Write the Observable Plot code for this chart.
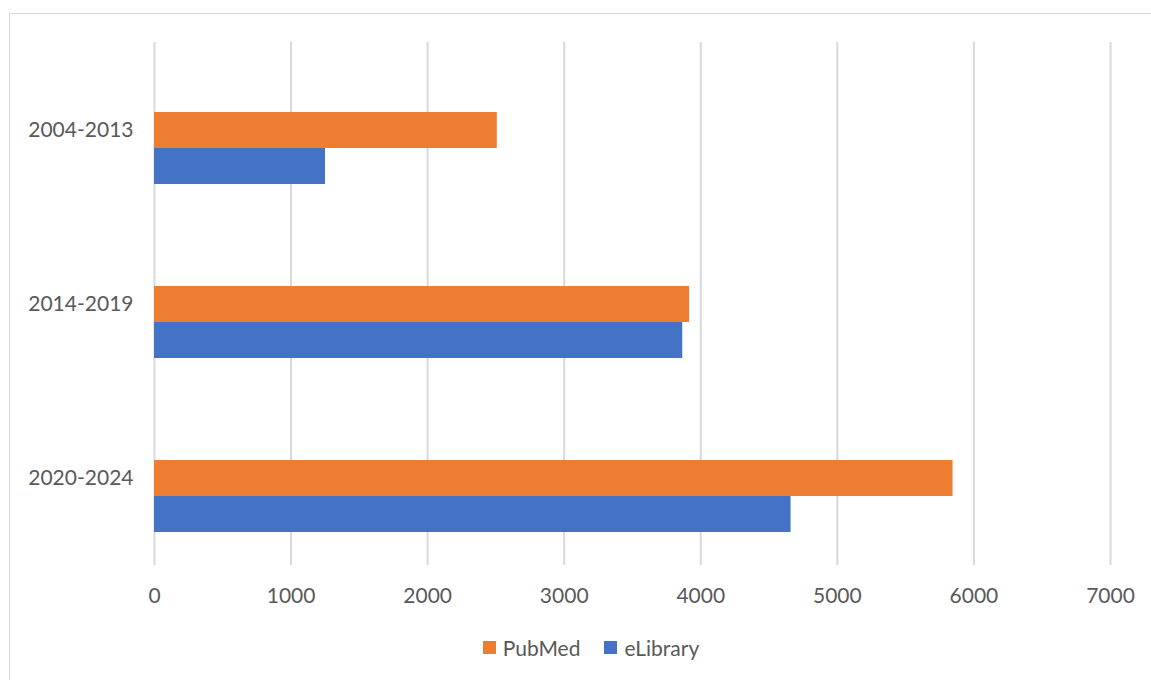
<!DOCTYPE html>
<html>
<head>
<meta charset="utf-8">
<script src="https://cdn.jsdelivr.net/npm/d3@7"></script>
<script src="https://cdn.jsdelivr.net/npm/@observablehq/plot@0.6"></script>
<style>
  html, body { margin: 0; padding: 0; background: #fff; }
  #wrap { position: relative; width: 1151px; height: 680px; overflow: hidden; font-family: Lato, "Open Sans", sans-serif; }
  #frame { position: absolute; left: 9px; top: 13px; width: 1200px; height: 700px; border-left: 1px solid #d9d9d9; border-top: 1px solid #d9d9d9; }
  #chart { position: absolute; left: 0; top: 0; }
  #legend { position: absolute; top: 635px; left: 0; width: 1182px; display: flex; justify-content: center; gap: 24px; font-size: 21px; color: #595959; }
  .item { display: flex; align-items: center; gap: 7px; }
  .sw { width: 13px; height: 13px; display: inline-block; }
</style>
</head>
<body>
<div id="wrap">
  <div id="frame"></div>
  <div id="chart"></div>
  <div id="legend"></div>
</div>
<script>
const periods = ["2004-2013", "2014-2019", "2020-2024"];
const pubmed = [2510, 3918, 5847];
const elibrary = [1252, 3868, 4661];
const seriesNames = ["PubMed", "eLibrary"];
const seriesColors = ["#ED7D31", "#4472C4"];
const xTicks = [0, 1000, 2000, 3000, 4000, 5000, 6000, 7000];

const pubData = periods.map((p, i) => ({period: p, value: pubmed[i], series: "PubMed"}));
const elibData = periods.map((p, i) => ({period: p, value: elibrary[i], series: "eLibrary"}));

const chart = Plot.plot({
  width: 1151,
  height: 610,
  marginTop: 42,
  marginBottom: 45,
  marginLeft: 154,
  marginRight: 41,
  style: {fontFamily: "Lato, 'Open Sans', sans-serif", fontSize: "21px", color: "#595959", background: "transparent"},
  x: {domain: [0, 7000], ticks: xTicks, tickFormat: d => String(d), label: null, tickSize: 0, tickPadding: 23},
  y: {domain: periods, paddingInner: 0.38, paddingOuter: 0.19, label: null, tickSize: 0, tickPadding: 21},
  color: {domain: seriesNames, range: seriesColors},
  marks: [
    Plot.gridX(xTicks, {stroke: "#d9d9d9", strokeOpacity: 1, strokeWidth: 2}),
    Plot.barX(pubData, {y: "period", x: "value", fill: "series", insetTop: 36, insetBottom: 36}),
    Plot.barX(elibData, {y: "period", x: "value", fill: "series", insetTop: 72, insetBottom: 0}),
    Plot.axisX({ticks: xTicks, tickSize: 0, tickPadding: 23, tickFormat: d => String(d), fill: "#595959", label: null}),
    Plot.axisY({tickSize: 0, tickPadding: 21, fill: "#595959", label: null})
  ]
});
document.getElementById("chart").appendChild(chart);

const legend = document.getElementById("legend");
seriesNames.forEach((s, i) => {
  const it = document.createElement("div");
  it.className = "item";
  const sw = document.createElement("span");
  sw.className = "sw";
  sw.style.background = seriesColors[i];
  const t = document.createElement("span");
  t.textContent = s;
  it.appendChild(sw); it.appendChild(t);
  legend.appendChild(it);
});
</script>
</body>
</html>
